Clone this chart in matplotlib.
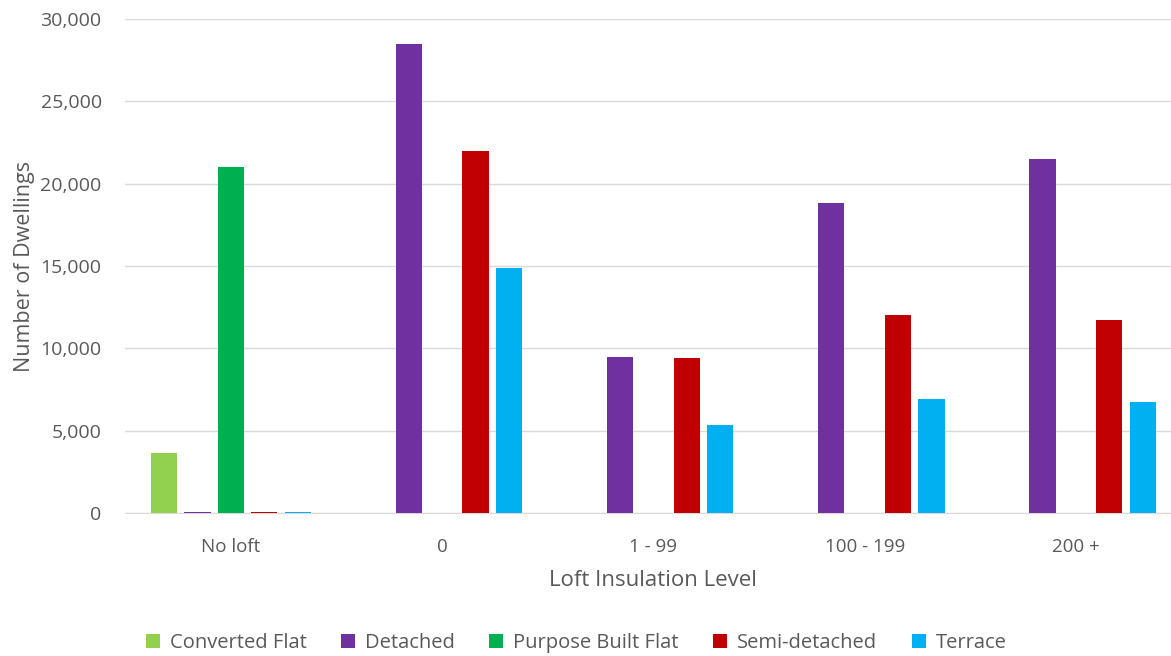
import matplotlib.pyplot as plt
import numpy as np
from matplotlib.ticker import FuncFormatter

levels = ["No loft", "0", "1 - 99", "100 - 199", "200 +"]
converted_flat = [3650, 0, 0, 0, 0]
detached = [40, 28500, 9500, 18800, 21500]
purpose_built_flat = [21000, 0, 0, 0, 0]
semi_detached = [40, 22000, 9400, 12000, 11700]
terrace = [40, 14900, 5350, 6900, 6750]

series = [
    ("Converted Flat", converted_flat, "#92D050"),
    ("Detached", detached, "#7030A0"),
    ("Purpose Built Flat", purpose_built_flat, "#00B050"),
    ("Semi-detached", semi_detached, "#C00000"),
    ("Terrace", terrace, "#00B0F0"),
]

plt.rcParams['font.family'] = ['Open Sans', 'DejaVu Sans']
grey = "#595959"

fig = plt.figure(figsize=(11.71, 6.56), dpi=100)
ax = fig.add_axes([0.107, 0.218, 0.902, 0.753])

x = np.arange(len(levels))
step = 0.158
width = 0.124
for i, (name, vals, col) in enumerate(series):
    ax.bar(x + (i - 2) * step, vals, width, color=col, label=name, zorder=3)

ax.set_ylim(0, 30000)
ax.set_xlim(-0.5, len(levels) - 0.5)
ax.set_yticks(np.arange(0, 30001, 5000))
ax.yaxis.set_major_formatter(FuncFormatter(lambda v, p: f"{int(v):,}"))
ax.set_xticks(x)
ax.set_xticklabels(levels)
ax.grid(axis="y", color="#D9D9D9", linewidth=1, zorder=0)
ax.tick_params(length=0, colors=grey)
ax.tick_params(axis="y", labelsize=14, pad=17)
ax.tick_params(axis="x", labelsize=13.5, pad=18)
for s in ["top", "right", "left"]:
    ax.spines[s].set_visible(False)
ax.spines["bottom"].set_color("#D9D9D9")

ax.set_xlabel("Loft Insulation Level", color=grey, fontsize=16, labelpad=10)
ax.set_ylabel("Number of Dwellings", color=grey, fontsize=15.5, labelpad=4)

leg = fig.legend(loc="lower center", bbox_to_anchor=(0.492, -0.017), ncol=5, frameon=False,
                 fontsize=14.5, handlelength=0.7, handleheight=0.7,
                 columnspacing=1.7, handletextpad=0.5, borderpad=0.2)
for t in leg.get_texts():
    t.set_color(grey)

fig.savefig("out.png", dpi=100)
